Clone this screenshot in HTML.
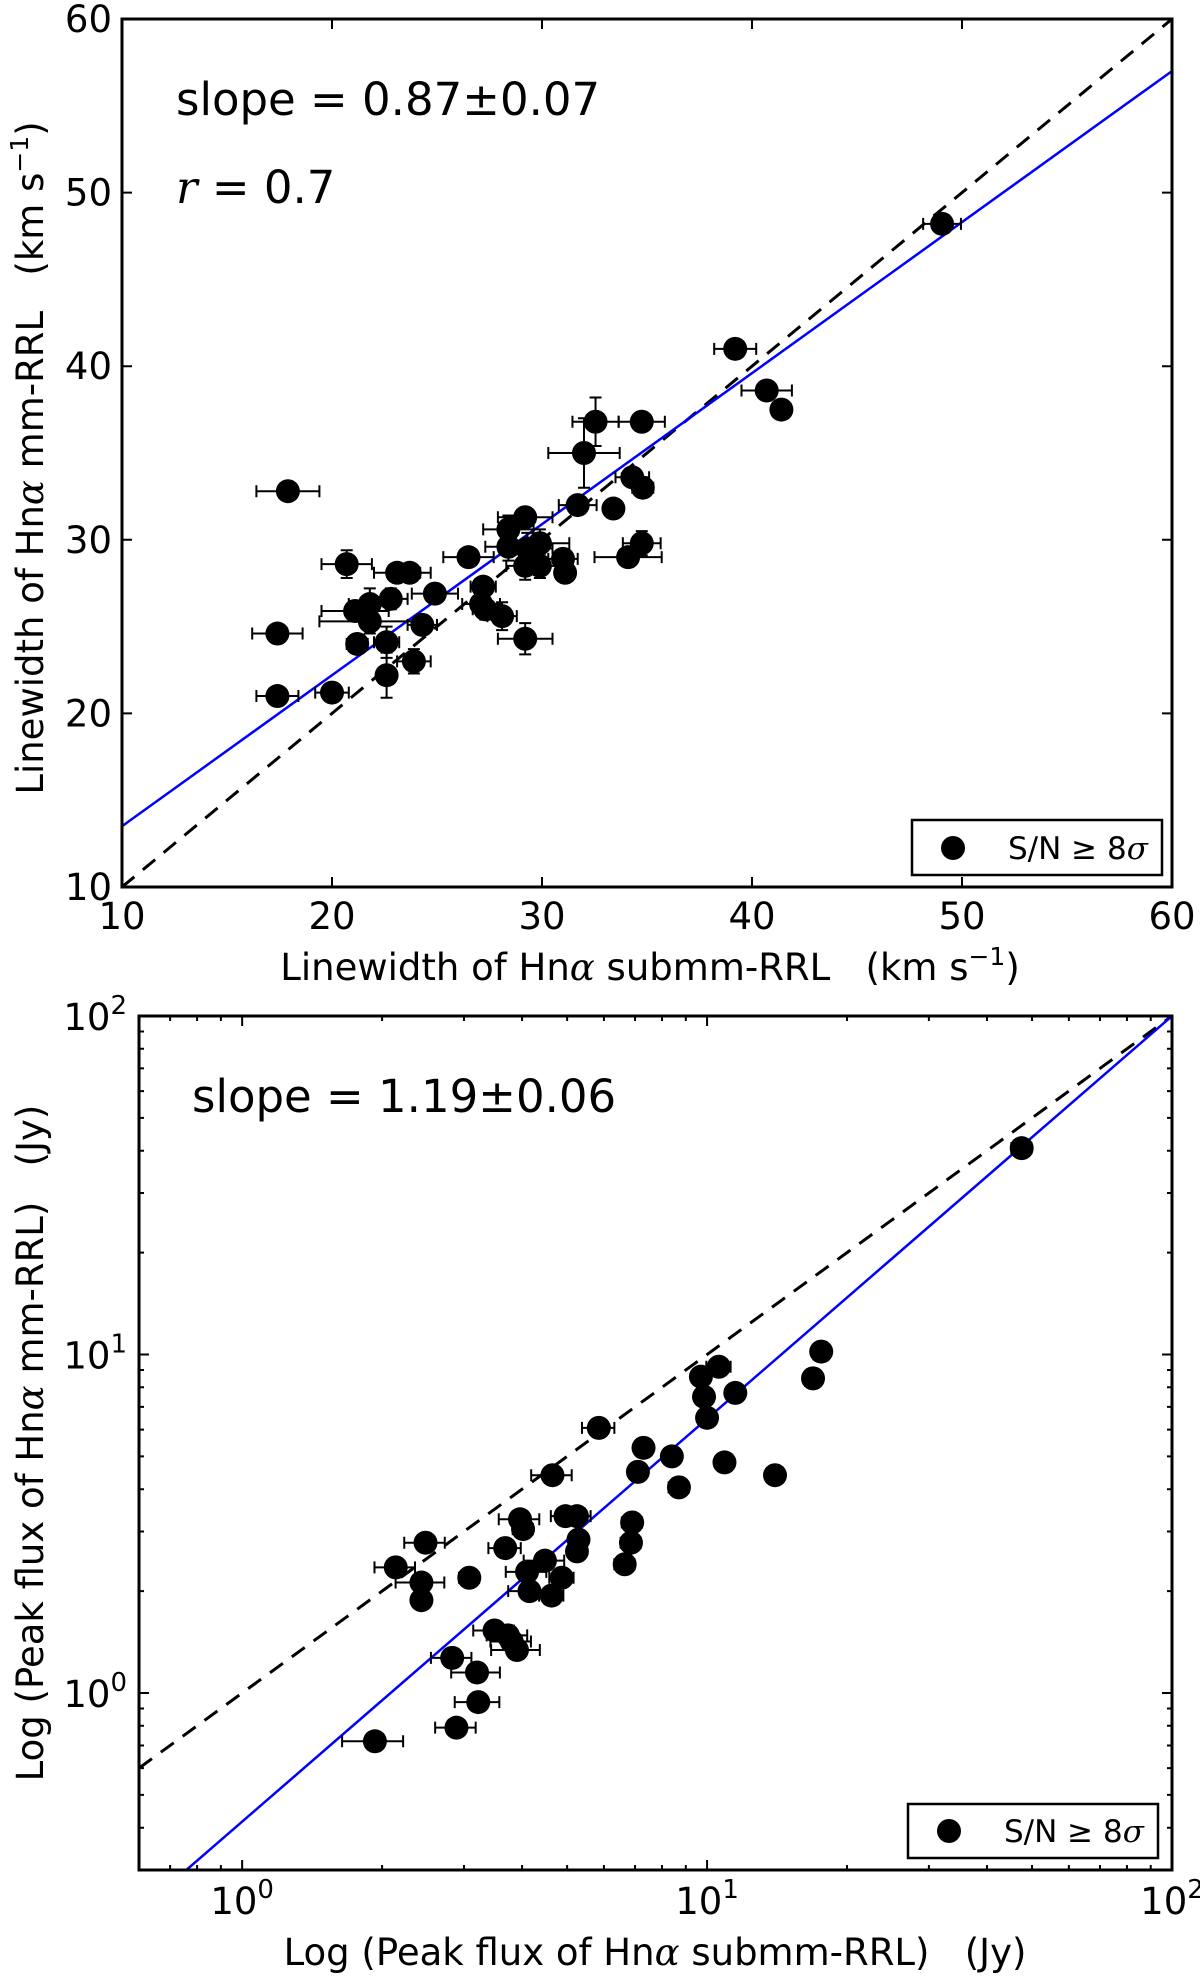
<!DOCTYPE html>
<html><head><meta charset="utf-8"><style>
html,body{margin:0;padding:0;background:#fff}
svg{display:block;font-family:"DejaVu Sans","Liberation Sans",sans-serif}
</style></head><body>
<svg id="fig" width="1200" height="1981" viewBox="0 0 1200 1981" xmlns="http://www.w3.org/2000/svg">
<g id="top"></g>
<g id="bot"></g>
</svg>
<script>
// Top panel data
const lwX = [49.05,39.2,40.7,41.4,32.55,34.75,32.0,34.3,34.8,31.7,33.4,17.9,29.2,28.4,34.75,34.1,26.5,20.7,23.1,23.7,28.4,29.3,29.9,29.2,29.9,31.0,31.1,24.9,27.2,27.1,27.3,22.8,21.8,21.1,21.8,28.1,24.3,17.4,21.2,22.6,29.2,23.9,22.6,17.4,20.0];
const lwY = [48.2,41.0,38.6,37.5,36.8,36.8,35.0,33.6,33.0,32.0,31.8,32.8,31.3,30.6,29.8,29.0,29.0,28.6,28.1,28.1,29.6,29.5,29.8,28.5,28.5,28.9,28.1,26.9,27.3,26.3,26.0,26.6,26.3,25.9,25.3,25.6,25.1,24.6,24.0,24.1,24.3,23.0,22.2,21.0,21.2];
const lwXerr = [0.9,1.0,1.2,0.4,1.1,1.1,1.7,0.8,0.5,0.9,0.4,1.5,1.3,1.2,0.9,1.6,1.2,1.2,1.1,1.0,1.1,1.2,1.4,0.9,1.0,0.7,0.4,1.1,0.6,0.9,0.6,0.8,1.0,1.6,2.4,0.7,0.7,1.2,0.5,0.6,1.3,0.8,0.4,1.0,0.8];
const lwYerr = [0.3,0.4,0.4,0.4,1.4,0.5,2.0,0.4,0.5,0.4,0.5,0.4,0.5,0.8,0.7,0.5,0.5,0.8,0.4,0.4,0.8,0.9,0.8,0.8,0.7,0.5,0.5,0.4,0.5,0.6,0.6,0.6,0.9,0.5,0.7,0.8,0.5,0.4,0.5,0.9,0.9,0.7,1.3,0.4,0.5];
const lwTicks = [10,20,30,40,50,60];
const lwSlope = 0.87, lwIntercept = 4.8;
// Bottom panel data
const pfX = [47.5,17.6,16.9,10.6,9.7,9.85,11.5,10.0,5.85,7.3,8.4,10.9,14.0,7.1,4.65,8.7,4.96,5.25,3.96,6.9,4.02,5.29,6.86,2.48,5.25,3.68,2.14,4.48,4.10,6.65,3.08,4.87,2.43,4.15,4.63,2.43,3.49,3.73,3.80,3.90,2.83,3.20,3.22,2.89,1.93];
const pfY = [40.7,10.2,8.5,9.2,8.6,7.5,7.7,6.5,6.07,5.3,5.0,4.8,4.4,4.5,4.4,4.05,3.33,3.33,3.26,3.19,3.05,2.84,2.78,2.78,2.62,2.68,2.35,2.46,2.28,2.40,2.19,2.19,2.12,2.0,1.94,1.88,1.53,1.48,1.42,1.34,1.27,1.15,0.94,0.79,0.72];
const pfXerrRel = [0.05,0.03,0.03,0.06,0.04,0.03,0.03,0.03,0.08,0.03,0.03,0.03,0.03,0.03,0.1,0.05,0.07,0.07,0.1,0.05,0.05,0.04,0.05,0.1,0.04,0.08,0.1,0.1,0.1,0.05,0.05,0.06,0.12,0.1,0.06,0.04,0.1,0.1,0.1,0.12,0.1,0.12,0.11,0.1,0.15];
const pfTicks = [1,10,100];
const pfSlope = 1.19, pfLogIntercept = -0.38;

const NS="http://www.w3.org/2000/svg";
function mk(parent,tag,attrs,text){const e=document.createElementNS(NS,tag);for(const k in attrs)e.setAttribute(k,attrs[k]);if(text!==undefined)e.textContent=text;parent.appendChild(e);return e;}

// ---------- top panel ----------
const T={l:122,r:1172,t:19,b:887,min:10,max:60};
const tx=v=>T.l+(v-T.min)/(T.max-T.min)*(T.r-T.l);
const ty=v=>T.b-(v-T.min)/(T.max-T.min)*(T.b-T.t);
const gt=document.getElementById('top');
mk(gt,'defs',{}).innerHTML='<clipPath id="c1"><rect x="122" y="19" width="1050" height="868"/></clipPath><clipPath id="c2"><rect x="139" y="1016" width="1033" height="854"/></clipPath>';
let l=mk(gt,'line',{x1:tx(10),y1:ty(10),x2:tx(60),y2:ty(60),stroke:'#000','stroke-width':3,'stroke-dasharray':'16,11','clip-path':'url(#c1)'});


l=mk(gt,'line',{x1:tx(10),y1:ty(10*lwSlope+lwIntercept),x2:tx(60),y2:ty(60*lwSlope+lwIntercept),stroke:'#0000ff','stroke-width':2.5,'clip-path':'url(#c1)'});


for(let i=0;i<lwX.length;i++){
  const g=mk(gt,'g',{});
  
  
  const x=tx(lwX[i]),y=ty(lwY[i]),x1=tx(lwX[i]-lwXerr[i]),x2=tx(lwX[i]+lwXerr[i]),y1=ty(lwY[i]-lwYerr[i]),y2=ty(lwY[i]+lwYerr[i]);
  mk(g,'path',{d:`M${x1},${y}H${x2}M${x1},${y-6}V${y+6}M${x2},${y-6}V${y+6}M${x},${y1}V${y2}M${x-6},${y1}H${x+6}M${x-6},${y2}H${x+6}`,stroke:'#000','stroke-width':2,fill:'none'});
  mk(g,'circle',{cx:x,cy:y,r:12,fill:'#000'});
}
let fr=mk(gt,'rect',{x:T.l,y:T.t,width:T.r-T.l,height:T.b-T.t,fill:'none',stroke:'#000','stroke-width':3});


lwTicks.forEach(v=>{
  const x=tx(v),y=ty(v);
  mk(gt,'path',{d:`M${x},${T.b}v-10M${x},${T.t}v10M${T.l},${y}h10M${T.r},${y}h-10`,stroke:'#000','stroke-width':2});
  let t=mk(gt,'text',{x:x,y:T.b+42,'font-size':37,'text-anchor':'middle'},String(v));
  
  
  t=mk(gt,'text',{x:T.l-10,y:y+13,'font-size':37,'text-anchor':'end'},String(v));
  
  
});
</script>
<script>
const gt2=document.getElementById('top');
gt2.insertAdjacentHTML('beforeend',`
<text x="650" y="980" font-size="37" text-anchor="middle">Linewidth of Hn<tspan font-family="DejaVu Serif" font-style="italic">α</tspan> submm-RRL&#160;&#160;&#160;(km s<tspan dy="-15" font-size="25">−1</tspan><tspan dy="15">)</tspan></text>
<text transform="translate(43,458) rotate(-90)" font-size="37" text-anchor="middle">Linewidth of Hn<tspan font-family="DejaVu Serif" font-style="italic">α</tspan> mm-RRL&#160;&#160;&#160;(km s<tspan dy="-15" font-size="25">−1</tspan><tspan dy="15">)</tspan></text>
<text x="176" y="115" font-size="45">slope = 0.87±0.07</text>
<text x="176" y="203" font-size="45"><tspan font-family="DejaVu Serif" font-style="italic">r</tspan> = 0.7</text>
<g><rect x="912" y="820" width="250" height="55" fill="#fff" stroke="#000" stroke-width="2.5"/><circle cx="953" cy="848" r="12"/><text x="1008" y="859" font-size="31">S/N ≥ 8<tspan font-family="DejaVu Serif" font-style="italic">σ</tspan></text></g>`);
</script>
<script>
// ---------- bottom panel ----------
const B={l:139,r:1172,t:1016,b:1870,xmin:Math.log10(0.6),xmax:2,ymin:Math.log10(0.3),ymax:2};
const bx=v=>B.l+(Math.log10(v)-B.xmin)/(B.xmax-B.xmin)*(B.r-B.l);
const by=v=>B.b-(Math.log10(v)-B.ymin)/(B.ymax-B.ymin)*(B.b-B.t);
const gb=document.getElementById('bot');
let d=mk(gb,'line',{x1:bx(0.6),y1:by(0.6),x2:bx(100),y2:by(100),stroke:'#000','stroke-width':3,'stroke-dasharray':'16,11','clip-path':'url(#c2)'});


const fy=x=>Math.pow(10,pfSlope*Math.log10(x)+pfLogIntercept);
d=mk(gb,'line',{x1:bx(0.6),y1:by(fy(0.6)),x2:bx(100),y2:by(fy(100)),stroke:'#0000ff','stroke-width':2.5,'clip-path':'url(#c2)'});


for(let i=0;i<pfX.length;i++){
  const g=mk(gb,'g',{});
  
  
  const x=bx(pfX[i]),y=by(pfY[i]),x1=bx(pfX[i]*(1-pfXerrRel[i])),x2=bx(pfX[i]*(1+pfXerrRel[i]));
  mk(g,'path',{d:`M${x1},${y}H${x2}M${x1},${y-6}V${y+6}M${x2},${y-6}V${y+6}`,stroke:'#000','stroke-width':2,fill:'none'});
  mk(g,'circle',{cx:x,cy:y,r:12,fill:'#000'});
}
let fr2=mk(gb,'rect',{x:B.l,y:B.t,width:B.r-B.l,height:B.b-B.t,fill:'none',stroke:'#000','stroke-width':3});


let p='';
for(let dec=-1;dec<=1;dec++)for(let m=1;m<10;m++){
  const v=m*Math.pow(10,dec);const len=m===1?10:5;
  if(v>=0.6&&v<=100){const x=bx(v);p+=`M${x},${B.b}v-${len}M${x},${B.t}v${len}`;}
  if(v>=0.3&&v<=100){const y=by(v);p+=`M${B.l},${y}h${len}M${B.r},${y}h-${len}`;}
}
mk(gb,'path',{d:p,stroke:'#000','stroke-width':2});
pfTicks.forEach(v=>{
  const e=Math.round(Math.log10(v));
  let t=mk(gb,'text',{x:bx(v),y:B.b+44,'font-size':37,'text-anchor':'middle'});
  
  
  t.innerHTML=`10<tspan dy="-16" font-size="26">${e}</tspan>`;
  t=mk(gb,'text',{x:B.l-12,y:by(v)+14,'font-size':37,'text-anchor':'end'});
  
  
  t.innerHTML=`10<tspan dy="-16" font-size="26">${e}</tspan>`;
});
gb.insertAdjacentHTML('beforeend',`
<text x="655" y="1965" font-size="37" text-anchor="middle">Log (Peak flux of Hn<tspan font-family="DejaVu Serif" font-style="italic">α</tspan> submm-RRL)&#160;&#160;&#160;(Jy)</text>
<text transform="translate(43,1443) rotate(-90)" font-size="37" text-anchor="middle">Log (Peak flux of Hn<tspan font-family="DejaVu Serif" font-style="italic">α</tspan> mm-RRL)&#160;&#160;&#160;(Jy)</text>
<text x="192" y="1112" font-size="45">slope = 1.19±0.06</text>
<g><rect x="908" y="1804" width="250" height="54" fill="#fff" stroke="#000" stroke-width="2.5"/><circle cx="949" cy="1831" r="12"/><text x="1004" y="1842" font-size="31">S/N ≥ 8<tspan font-family="DejaVu Serif" font-style="italic">σ</tspan></text></g>`);
</script>
</body></html>
